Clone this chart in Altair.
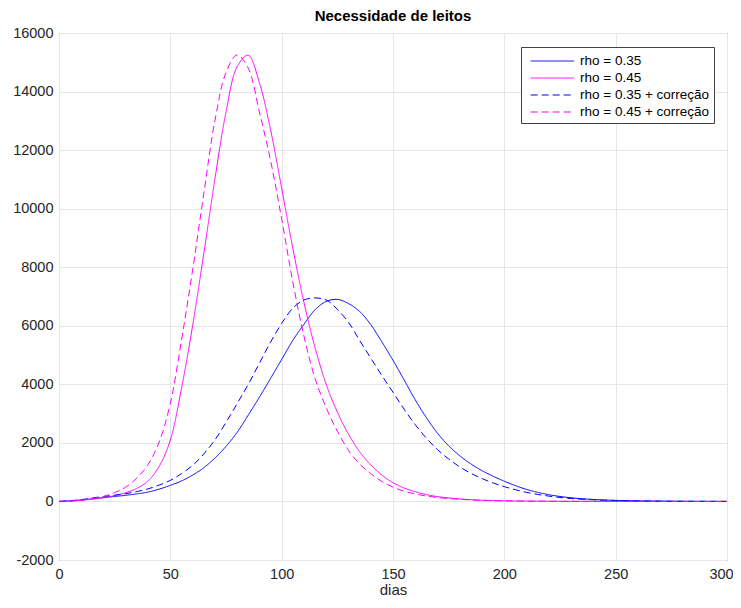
import altair as alt
import pandas as pd

days = list(range(0, 301, 5))

rho035 = [0, 20, 50, 90, 130, 170, 210, 260, 320, 420,
          550, 700, 900, 1150, 1480, 1880, 2360, 2950, 3560, 4200,
          4850, 5500, 6050, 6550, 6830, 6900, 6760, 6490, 6040, 5450,
          4820, 4150, 3470, 2860, 2330, 1900, 1560, 1280, 1050, 860,
          690, 540, 410, 310, 230, 170, 125, 92, 68, 50,
          37, 28, 21, 16, 12, 9, 7, 5, 4, 3, 2]

rho045 = [0, 15, 40, 80, 130, 200, 300, 450, 700, 1200,
          2100, 3850, 6000, 8450, 11000, 13300, 14850, 15240, 14300, 12700,
          10700, 8650, 6800, 5250, 4000, 3050, 2300, 1700, 1250, 900,
          640, 460, 330, 235, 165, 120, 85, 60, 42, 30,
          22, 16, 12, 9, 7, 5, 4, 3, 2, 2,
          1, 1, 1, 1, 0, 0, 0, 0, 0, 0, 0]

rho035c = [0, 25, 60, 120, 170, 215, 265, 340, 430, 560,
           720, 950, 1230, 1620, 2100, 2700, 3340, 4000, 4720, 5440,
           6080, 6600, 6880, 6950, 6880, 6560, 6120, 5500, 4900, 4300,
           3730, 3150, 2620, 2160, 1770, 1450, 1180, 960, 780, 630,
           505, 400, 310, 240, 182, 136, 100, 74, 55, 41,
           30, 22, 17, 13, 10, 7, 5, 4, 3, 2, 1]

rho045c = [0, 15, 45, 100, 170, 300, 490, 800, 1260, 2030,
           3350, 5500, 7900, 10500, 13000, 14650, 15250, 14800, 13300, 11650,
           9650, 7500, 5650, 4200, 3200, 2400, 1750, 1280, 950, 680,
           490, 350, 255, 185, 135, 98, 72, 52, 38, 27,
           20, 14, 10, 8, 6, 4, 3, 2, 2, 1,
           1, 1, 0, 0, 0, 0, 0, 0, 0, 0, 0]

series_names = ["rho = 0.35", "rho = 0.45",
                "rho = 0.35 + correção", "rho = 0.45 + correção"]
series_values = [rho035, rho045, rho035c, rho045c]
colors = ["#0000ff", "#ff00ff", "#0000ff", "#ff00ff"]
dashes = [[1, 0], [1, 0], [7, 4], [7, 4]]

xticks = [0, 50, 100, 150, 200, 250, 300]
yticks = list(range(-2000, 16001, 2000))

rows = []
for name, vals in zip(series_names, series_values):
    for d, v in zip(days, vals):
        rows.append({"dia": d, "valor": v, "serie": name})
df = pd.DataFrame(rows)

font = "Liberation Sans"

chart = alt.Chart(df).mark_line(strokeWidth=1, interpolate="catmull-rom", clip=True).encode(
    x=alt.X("dia:Q",
            scale=alt.Scale(domain=[0, 300], nice=False, zero=False),
            axis=alt.Axis(values=xticks, title="dias", grid=True, ticks=False,
                          domain=False, labelPadding=7, titlePadding=2,
                          labelFlush=False, format="d",
                          labelOffset={"expr": "datum.value == 300 ? -6 : 0"})),
    y=alt.Y("valor:Q",
            scale=alt.Scale(domain=[-2000, 16000], nice=False, zero=False),
            axis=alt.Axis(values=yticks, title=None, grid=True, ticks=False,
                          domain=False, labelPadding=6, labelFlush=False,
                          labelExpr="'' + datum.value")),
    color=alt.Color("serie:N", title=None,
                    scale=alt.Scale(domain=series_names, range=colors)),
    strokeDash=alt.StrokeDash("serie:N", title=None,
                              scale=alt.Scale(domain=series_names, range=dashes)),
).properties(
    width=668,
    height=527,
    title=alt.Title("Necessidade de leitos", font=font, fontSize=15,
                    fontWeight="bold", color="#000000", offset=1),
    padding={"left": 51, "top": 25, "right": 6, "bottom": 40},
    autosize=alt.AutoSizeParams(type="none"),
).configure_view(
    stroke="#404040", strokeWidth=1
).configure_axis(
    labelFont=font, labelFontSize=14.5, labelColor="#262626",
    titleFont=font, titleFontSize=15, titleFontWeight="normal", titleColor="#262626",
    gridColor="#e6e6e6", gridWidth=1,
).configure_legend(
    orient="none", legendX=462, legendY=14,
    strokeColor="#404040", fillColor="#ffffff", padding=4.5,
    labelFont=font, labelFontSize=13.5, labelColor="#000000",
    symbolType="M-0.5,0L4.5,0", symbolSize=300, symbolStrokeWidth=1,
    rowPadding=1, labelOffset=35.5,
)

chart.save("out.html", embed_options={"renderer": "svg", "actions": False})
